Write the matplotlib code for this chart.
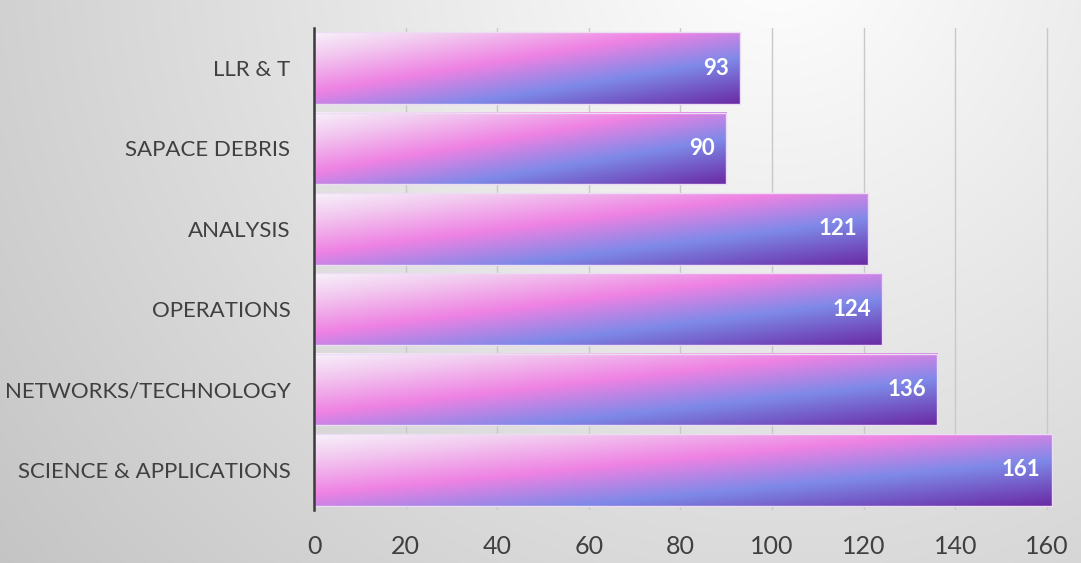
import numpy as np
import matplotlib
matplotlib.use("Agg")
import matplotlib.pyplot as plt
from matplotlib.colors import LinearSegmentedColormap

categories = ["SCIENCE & APPLICATIONS", "NETWORKS/TECHNOLOGY", "OPERATIONS",
              "ANALYSIS", "SAPACE DEBRIS", "LLR & T"]
values = [161, 136, 124, 121, 90, 93]
xticks = [0, 20, 40, 60, 80, 100, 120, 140, 160]

plt.rcParams['font.family'] = ['Lato', 'DejaVu Sans']

W, H = 1081, 563
fig = plt.figure(figsize=(W / 100, H / 100), dpi=100)

# background gradient
bg = fig.add_axes([0, 0, 1, 1], zorder=-10)
yy, xx = np.mgrid[0:1:H * 1j, 0:1:W * 1j]
d = np.sqrt(((xx - 0.72) * W / H) ** 2 + (yy + 0.1) ** 2)
g = np.clip(1.0 - 0.13 * d, 0, 1)
bg.imshow(np.dstack([g, g, g]), extent=(0, 1, 0, 1), aspect='auto', origin='upper')
bg.set_axis_off()

px_per_unit = (1047 - 314) / 160
xmax = 162
ax = fig.add_axes([314 / W, 1 - 510 / H, xmax * px_per_unit / W, (510 - 28) / H])
ax.patch.set_alpha(0)

cmap = LinearSegmentedColormap.from_list("barg", [
    (0.0, "#f7f1fa"), (0.18, "#f2c6ef"), (0.42, "#ee82e3"),
    (0.68, "#7e89e8"), (1.0, "#6a2ba4")])

ypos = np.arange(len(categories))
bars = ax.barh(ypos, values, height=0.89, facecolor='none',
               edgecolor='#ecdcf4', linewidth=1.0, zorder=3)

nyg, nxg = 60, 300
v, u = np.mgrid[0:1:nyg * 1j, 0:1:nxg * 1j]
tgrad = (u + v) / 2
for b in bars:
    x0, y0, w, h = b.get_x(), b.get_y(), b.get_width(), b.get_height()
    ax.imshow(tgrad, cmap=cmap, vmin=0, vmax=1, aspect='auto',
              extent=(x0, x0 + w, y0, y0 + h), origin='upper', zorder=2,
              interpolation='bilinear')
    ax.annotate(f"{int(w)}", xy=(x0 + w, y0 + h / 2), xytext=(-8, 0),
                textcoords='offset points', ha='right', va='center',
                color='white', fontsize=16, fontweight='bold', zorder=4,
                annotation_clip=False)

ax.set_xlim(0, xmax)
ax.set_ylim(-0.5, len(categories) - 0.5)
ax.set_xticks(xticks)
ax.set_yticks(ypos)
ax.set_yticklabels(categories)
ax.xaxis.grid(True, color='#c8c8c8', linewidth=1.0, zorder=0)
ax.set_axisbelow(True)
for s in ['top', 'right', 'bottom']:
    ax.spines[s].set_visible(False)
ax.spines['left'].set_color('#3a3a3a')
ax.spines['left'].set_linewidth(1.8)
ax.spines['left'].set_zorder(5)
ax.tick_params(axis='x', length=0, pad=18, labelsize=18, labelcolor='#404040')
ax.tick_params(axis='y', length=0, pad=17, labelsize=16, labelcolor='#404040')

fig.savefig("out.png", dpi=100)
